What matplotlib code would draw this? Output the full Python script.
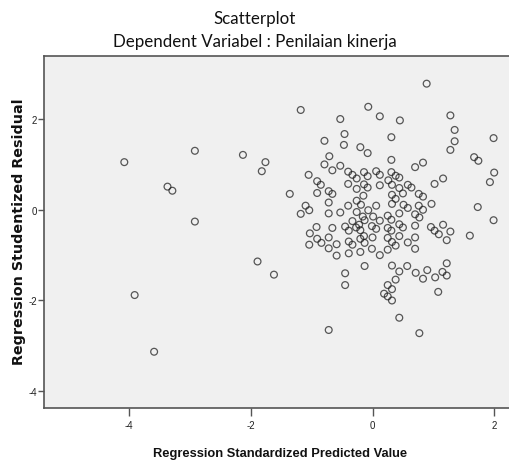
import matplotlib
matplotlib.use("Agg")
import matplotlib.pyplot as plt

# Regression Standardized Predicted Value
pred = [
    -4.08, -3.37, -3.29, -2.92, -2.92, -3.91, -3.59, -2.13, -1.76, -1.82,
    -1.89, -1.62, -1.36, -1.18, -0.53, -0.46, -0.47, -0.79, -0.71, -0.79,
    -0.66, -0.53, -0.40, -1.05, -0.91, -0.85, -0.40, -0.91, -0.72, -0.66,
    -0.72, -1.10, -1.04, -1.18, -0.72, -0.53, -0.40, -0.92, -0.66, -0.45,
    0.89, -0.07, 0.12, 0.45, 1.28, 1.35, 1.35, 1.28, -0.20, -0.08,
    0.31, 1.99, 1.67, 1.74, 0.31, 0.70, 0.83, -0.33, -0.26, -0.14,
    -0.08, 0.06, 0.12, -0.26, -0.14, -0.08, 0.12, 0.31, 0.26, 0.38,
    0.44, 0.32, 0.44, 0.58, 0.64, 0.50, 0.32, 0.38, 0.51, 0.58,
    0.76, 0.83, 0.76, 0.83, 0.97, 1.02, 1.16, 2.00, 1.93, 1.73,
    1.99, -0.15, -0.26, -0.19, -0.26, -0.16, -0.07, 0.06, 0.01, 0.12,
    0.25, 0.31, 0.44, -0.33, -0.22, -0.13, 0.44, 0.70, 0.70, 0.96,
    1.16, 0.32, -1.03, -0.91, -0.84, -1.04, -0.72, -0.72, -0.59, -0.59,
    -0.39, -0.27, -0.20, -0.14, -0.01, 0.06, -0.39, -0.33, -0.39, -0.20,
    -0.13, 0.00, -0.20, -0.01, 0.12, -0.13, -0.45, -0.45, -0.72, 0.50,
    0.77, 1.02, 1.09, 1.28, 1.22, 1.60, 0.25, 0.31, 0.25, 0.44,
    0.32, 0.38, 0.58, 0.70, 0.70, 0.25, 0.32, 0.44, 0.57, 0.71,
    0.83, 0.90, 1.03, 1.22, 1.15, 1.22, 1.08, 0.38, 0.25, 0.32,
    0.19, 0.25, 0.32, 0.44, 0.77,
]

# Regression Studentized Residual
resid = [
    1.05, 0.51, 0.42, 1.30, -0.26, -1.88, -3.13, 1.21, 1.05, 0.85,
    -1.14, -1.43, 0.35, 2.20, 2.00, 1.67, 1.43, 1.52, 1.18, 1.00,
    0.87, 0.97, 0.84, 0.77, 0.63, 0.55, 0.57, 0.37, 0.41, 0.35,
    0.16, 0.09, -0.01, -0.09, -0.08, -0.06, 0.09, -0.38, -0.40, -0.37,
    2.78, 2.27, 2.06, 1.97, 2.08, 1.76, 1.51, 1.32, 1.38, 1.25,
    1.60, 1.58, 1.16, 1.08, 1.10, 0.94, 1.04, 0.77, 0.69, 0.83,
    0.74, 0.85, 0.77, 0.46, 0.56, 0.49, 0.54, 0.83, 0.65, 0.75,
    0.71, 0.55, 0.48, 0.55, 0.49, 0.36, 0.33, 0.24, 0.11, 0.04,
    0.35, 0.29, 0.09, 0.00, 0.13, 0.57, 0.69, 0.82, 0.61, 0.06,
    -0.23, 0.31, 0.20, 0.11, -0.05, -0.15, -0.01, 0.09, -0.15, -0.24,
    -0.13, -0.22, -0.08, -0.25, -0.33, -0.23, -0.32, -0.35, -0.10, -0.38,
    -0.33, 0.13, -0.52, -0.64, -0.73, -0.77, -0.61, -0.85, -0.76, -1.01,
    -0.46, -0.39, -0.45, -0.58, -0.36, -0.42, -0.70, -0.77, -0.96, -0.64,
    -0.73, -0.61, -0.93, -0.86, -1.00, -1.24, -1.40, -1.66, -2.65, -0.39,
    -0.17, -0.46, -0.54, -0.48, -0.67, -0.57, -0.40, -0.46, -0.62, -0.58,
    -0.71, -0.79, -0.72, -0.61, -0.86, -0.88, -1.23, -1.36, -1.24, -1.39,
    -1.52, -1.33, -1.49, -1.18, -1.37, -1.45, -1.81, -1.54, -1.66, -1.75,
    -1.85, -1.91, -2.00, -2.38, -2.72,
]

x_ticks = [-4, -2, 0, 2]
y_ticks = [2, 0, -2, -4]
title_lines = ["Scatterplot", "Dependent Variabel : Penilaian kinerja"]
x_label = "Regression Standardized Predicted Value"
y_label = "Regression Studentized Residual"

fig = plt.figure(figsize=(5.10, 4.64), dpi=100)
fig.patch.set_facecolor("white")
ax = fig.add_axes([44 / 510, 1 - 409 / 464, 1 - 44 / 510, (409 - 57) / 464])
ax.set_facecolor("#F0F0F0")

ax.scatter(pred, resid, s=24, facecolors="none", edgecolors="#1a1a1a",
           linewidths=0.9, alpha=0.72, zorder=3)

ax.set_xlim(-5.40, 2.26)
ax.set_ylim(-4.37, 3.39)
ax.set_xticks(x_ticks)
ax.set_yticks(y_ticks)
ax.set_xticklabels([str(t) for t in x_ticks])
ax.set_yticklabels([str(t) for t in y_ticks])

sans = ["Liberation Sans", "DejaVu Sans"]
for lab in ax.get_xticklabels() + ax.get_yticklabels():
    lab.set_fontfamily(sans)
    lab.set_fontsize(7)
    lab.set_color("#222222")
ax.tick_params(axis="x", length=6, width=1.0, color="#555555", pad=3)
ax.tick_params(axis="y", length=4, width=1.0, color="#555555", pad=1)

for side in ["left", "bottom", "top"]:
    ax.spines[side].set_color("#555555")
    ax.spines[side].set_linewidth(1.2)
ax.spines["right"].set_visible(False)

ax.set_xlabel(x_label, fontsize=9.3, fontweight="bold", family=sans,
              color="#111111")
ax.xaxis.set_label_coords((280 - 44) / 466, -(448 - 409) / 352)
ax.set_ylabel(y_label, fontsize=10.3, fontweight="bold",
              family=["DejaVu Sans"], color="#111111")
ax.yaxis.set_label_coords((26 - 44) / 466, (409 - 232) / 352)

fig.text(255 / 510, 1 - 19 / 464, title_lines[0], ha="center", va="center",
         fontsize=12.2, family=["Lato", "DejaVu Sans"], color="#111111")
fig.text(255 / 510, 1 - 42 / 464, title_lines[1], ha="center", va="center",
         fontsize=12.2, family=["Lato", "DejaVu Sans"], color="#111111")

fig.savefig("out.png", dpi=100)
